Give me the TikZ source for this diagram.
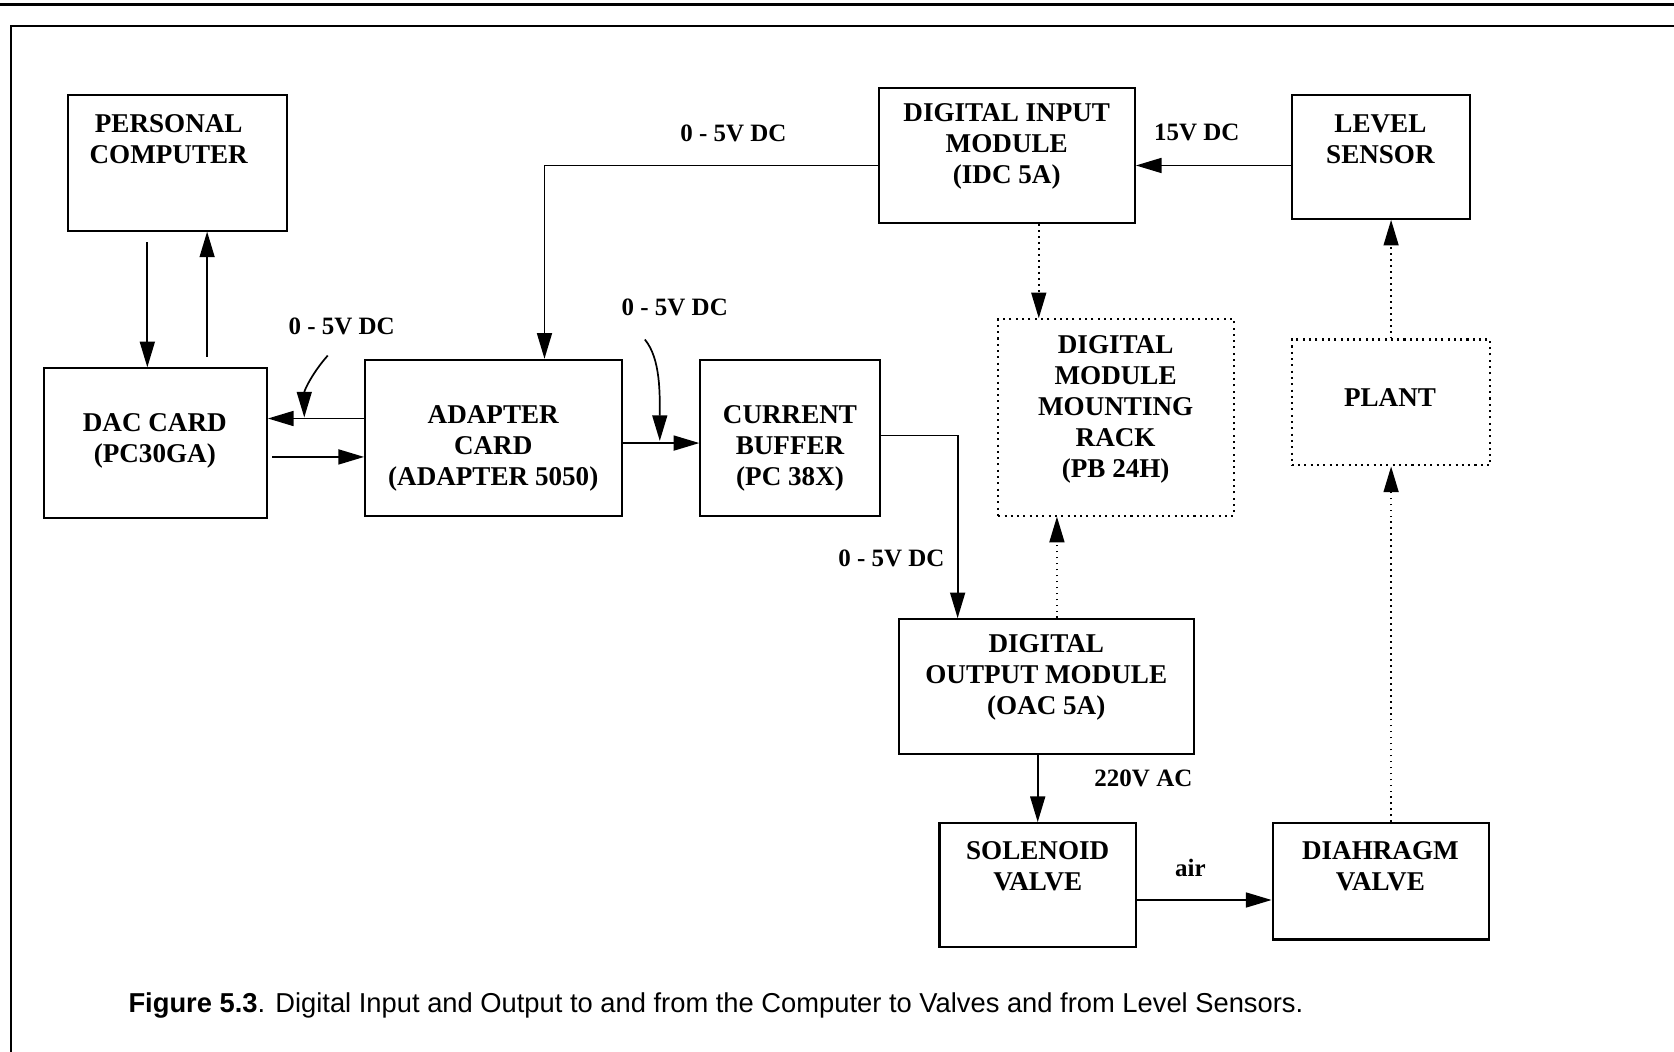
\documentclass[tikz,border=0pt]{standalone}
\usepackage{fontspec}
\setmainfont{Liberation Serif}
\newfontfamily\capfont{Liberation Sans}
\usetikzlibrary{arrows.meta,calc}
\begin{document}
\begin{tikzpicture}[x=0.5pt,y=-0.5pt,
  box/.style={draw, line width=0.95pt, inner sep=0pt},
  dbox/.style={draw, line width=0.95pt, dotted, inner sep=0pt},
  btxt/.style={font=\bfseries\fontsize{12.7}{14.5}\selectfont, align=center, inner sep=0pt},
  lbl/.style={font=\bfseries\fontsize{11.7}{13}\selectfont, inner sep=0pt},
  arr/.style={line width=0.8pt, -{Triangle[length=12pt,width=7pt]}},
  darr/.style={arr, dotted},
]
\useasboundingbox (0,0) rectangle (1568,985);

% page rule and frame
\draw[line width=1.6pt] (0,4) -- (1568,4);
\draw[line width=0.9pt] (10,985) -- (10,24) -- (1568,24);

% blocks
\node[box, minimum width=102.5pt, minimum height=63.5pt] (pc) at (166.5,152.5) {};
\node[btxt] (pct) at (158,130) {PERSONAL\\COMPUTER};

\node[box, minimum width=104.5pt, minimum height=70pt] (dac) at (145.5,415) {};
\node[btxt] (dact) at (145,413) {DAC CARD\\(PC30GA)};

\node[box, minimum width=120.5pt, minimum height=73pt] (adapter) at (462.5,410) {};
\node[btxt] (adaptert) at (462,420) {ADAPTER\\CARD\\(ADAPTER 5050)};

\node[box, minimum width=84pt, minimum height=73pt] (buffer) at (740,410) {};
\node[btxt] (buffert) at (740,420) {CURRENT\\BUFFER\\(PC 38X)};

\node[box, minimum width=120pt, minimum height=63.5pt] (dim) at (943,145.5) {};
\node[btxt] (dimt) at (943,137) {DIGITAL INPUT\\MODULE\\(IDC 5A)};

\node[box, minimum width=83.5pt, minimum height=58pt] (sensor) at (1293.5,147) {};
\node[btxt] (sensort) at (1293,130) {LEVEL\\SENSOR};

\node[dbox, minimum width=110.5pt, minimum height=92pt] (rack) at (1045.5,391) {};
\node[btxt] (rackt) at (1045,383.5) {DIGITAL\\MODULE\\MOUNTING\\RACK\\(PB 24H)};

\node[dbox, minimum width=93pt, minimum height=59pt] (plant) at (1303,377) {};
\node[btxt] (plantt) at (1302,372) {PLANT};

\node[box, minimum width=138pt, minimum height=63pt] (dom) at (980,643) {};
\node[btxt] (domt) at (980,634.5) {DIGITAL\\OUTPUT MODULE\\(OAC 5A)};

\node[box, minimum width=92pt, minimum height=58pt] (sol) at (972,829) {};
\node[btxt] (solt) at (972,811.5) {SOLENOID\\VALVE};

\node[box, minimum width=101.5pt, minimum height=54.5pt] (dia) at (1293.5,825.5) {};
\node[btxt] (diat) at (1293,811.5) {DIAHRAGM\\VALVE};

% guide positions for the wires
\coordinate (xa) at (138,0);
\coordinate (xb) at (194,0);
\coordinate (ya) at (0,392);
\coordinate (yb) at (0,428);
\coordinate (yc) at (0,415);
\coordinate (yd) at (0,155);
\coordinate (xe) at (510,0);
\coordinate (xf) at (973,0);
\coordinate (yg) at (0,408);
\coordinate (xh) at (897,0);
\coordinate (xi) at (990,0);
\coordinate (xj) at (972,0);
\coordinate (yk) at (0,843);
\coordinate (xl) at (1303,0);

% signal wires
\draw[arr, shorten <=5pt] (pc.south -| xa) -- (dac.north -| xa);
\draw[arr, shorten <=5pt] (dac.north -| xb) -- (pc.south -| xb);
\draw[arr] (adapter.west |- ya) -- (dac.east |- ya);
\draw[arr, shorten <=2pt] (dac.east |- yb) -- (adapter.west |- yb);
\draw[arr] (adapter.east |- yc) -- (buffer.west |- yc);
\draw[arr] (dim.west |- yd) -| (adapter.north -| xe);
\draw[arr] (sensor.west |- yd) -- (dim.east |- yd);
\draw[darr] (dim.south -| xf) -- (rack.north -| xf);
\draw[arr] (buffer.east |- yg) -| (dom.north -| xh);
\draw[darr] (dom.north -| xi) -- (rack.south -| xi);
\draw[arr] (dom.south -| xj) -- (sol.north -| xj);
\draw[arr] (sol.east |- yk) -- (dia.west |- yk);
\draw[darr] (dia.north -| xl) -- (plant.south -| xl);
\draw[darr] (plant.north -| xl) -- (sensor.south -| xl);

% wire labels
\node[lbl] (v1) at (687,125) {0 - 5V DC};
\node[lbl] (v15) at (1121,124) {15V DC};
\node[lbl] (v2) at (320,306) {0 - 5V DC};
\node[lbl] (v3) at (632,288) {0 - 5V DC};
\node[lbl] (v4) at (835,523) {0 - 5V DC};
\node[lbl] (v220) at (1071,729) {220V AC};
\node[lbl] (vair) at (1115,813) {air};

% pointers from labels to their wires
\coordinate (c2s) at (307,333);
\coordinate (c2e) at (285,391);
\draw[arr] (c2s) .. controls (292,350) and (285,366) .. (c2e);
\coordinate (c3s) at (604,318);
\coordinate (c3e) at (618,413);
\draw[arr] (c3s) .. controls (619,336) and (618,370) .. (c3e);

% caption
\node[anchor=west, inner sep=0pt, font=\capfont\fontsize{12.8}{14}\selectfont] (cap) at (120,942)
  {\textbf{Figure 5.3}. Digital Input and Output to and from the Computer to Valves and from Level Sensors.};
\end{tikzpicture}
\end{document}
